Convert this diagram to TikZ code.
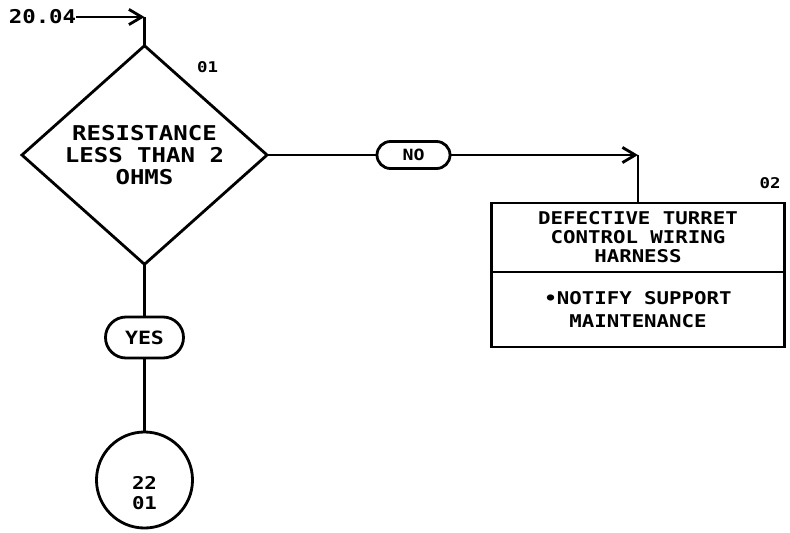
\documentclass[tikz,border=0pt]{standalone}
\usepackage{fontspec}
\setmonofont[FakeStretch=1.18]{DejaVu Sans Mono}
\usetikzlibrary{arrows.meta,shapes.geometric,shapes.misc,positioning}

\begin{document}
\begin{tikzpicture}[x=0.025cm, y=-0.025cm, line width=2pt,
    >={Straight Barb[length=3.2mm,width=3.8mm]},
    every node/.style={font=\ttfamily\bfseries, inner sep=0pt, outer sep=0pt},
    decision/.style={draw, diamond, minimum width=6.125cm, minimum height=5.25cm,
      align=center, font=\ttfamily\bfseries\fontsize{14.5}{15.6}\selectfont},
    answer/.style={draw, rounded rectangle, font=\ttfamily\bfseries\fontsize{13}{15}\selectfont},
    faultbox/.style={draw, rectangle, minimum width=7.325cm, align=center,
      font=\ttfamily\bfseries\fontsize{12.5}{13.5}\selectfont},
    connector/.style={draw, circle, minimum size=2.4cm, align=center,
      font=\ttfamily\bfseries\fontsize{12.5}{14.2}\selectfont},
    stepnum/.style={font=\ttfamily\bfseries\fontsize{10.5}{12}\selectfont}]
  \useasboundingbox (0,0) rectangle (790,533);

  \node (ref) at (42.5,17) {\fontsize{13.5}{15}\selectfont 20.04};
  \node[decision] (dec) at (144.5,155) {RESISTANCE\\LESS THAN 2\\OHMS};
  \coordinate (entry) at (dec.north |- ref);
  \node[stepnum] (n01) at (207.5,67) {01};

  \node[answer, minimum width=1.825cm, minimum height=0.675cm,
    font=\ttfamily\bfseries\fontsize{11}{12}\selectfont] (no) at (413.5,155) {NO};
  \node[answer, minimum width=1.95cm, minimum height=1.025cm] (yes) at (144.5,337.5) {YES};

  \node[faultbox, minimum height=1.725cm] (fault) at (638,237.5)
    {DEFECTIVE TURRET\\CONTROL WIRING\\HARNESS};
  \node[faultbox, minimum height=1.875cm, below=0pt of fault,
    font=\ttfamily\bfseries\fontsize{12.5}{16}\selectfont] (action)
    {•NOTIFY SUPPORT\\MAINTENANCE};
  \node[stepnum] (n02) at (770,183) {02};
  \coordinate (corner) at (fault.north |- no.east);

  \node[connector] (goto) at (144.5,480) {\mbox{}\\[13.5pt]22\\01};

  \draw[->] (ref) -- (entry);
  \draw (entry) -- (dec.north);
  \draw (dec.east) -- (no.west);
  \draw[->] (no.east) -- (corner);
  \draw (corner) -- (fault.north);
  \draw (dec.south) -- (yes.north);
  \draw (yes.south) -- (goto.north);
\end{tikzpicture}
\end{document}
